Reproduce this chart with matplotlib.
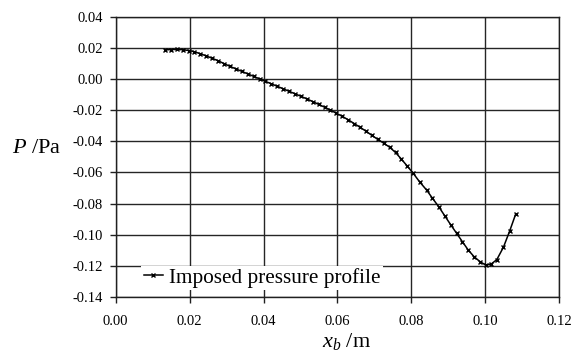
import matplotlib
matplotlib.use("Agg")
import matplotlib.pyplot as plt

plt.rcParams['font.family'] = ['Liberation Serif']
plt.rcParams['mathtext.fontset'] = 'custom'
plt.rcParams['mathtext.rm'] = 'Liberation Serif'
plt.rcParams['mathtext.it'] = 'Liberation Serif:italic'
plt.rcParams['axes.unicode_minus'] = False

x_b = [0.0133, 0.0149, 0.0165, 0.0181, 0.0197, 0.0213, 0.0229, 0.0245, 0.0261, 0.0277,
       0.0293, 0.0309, 0.0325, 0.0341, 0.0357, 0.0373, 0.0389, 0.0405, 0.0421, 0.0437,
       0.0453, 0.0469, 0.0485, 0.0501, 0.0517, 0.0533, 0.0549, 0.0565, 0.0581, 0.0597,
       0.0613, 0.0629, 0.0645, 0.0661, 0.0677, 0.0693, 0.0709, 0.0725, 0.0741, 0.0757,
       0.0773, 0.0789, 0.0805, 0.0822, 0.0841, 0.0857, 0.0875, 0.0890, 0.0906, 0.0922,
       0.0938, 0.0953, 0.0969, 0.0985, 0.1001, 0.1016, 0.1031, 0.1049, 0.1066, 0.1082]
pressure = [0.0187, 0.0189, 0.0190, 0.0188, 0.0183, 0.0175, 0.0162, 0.0148, 0.0133, 0.0117,
            0.0099, 0.0081, 0.0065, 0.0049, 0.0033, 0.0017, 0.0001, -0.0015, -0.0031, -0.0047,
            -0.0063, -0.0079, -0.0095, -0.0111, -0.0128, -0.0145, -0.0163, -0.0181, -0.0200, -0.0220,
            -0.0240, -0.0262, -0.0286, -0.0310, -0.0335, -0.0362, -0.0388, -0.0412, -0.0438, -0.0472,
            -0.0515, -0.0560, -0.0606, -0.0660, -0.0713, -0.0766, -0.0824, -0.0878, -0.0935, -0.0990,
            -0.1045, -0.1096, -0.1140, -0.1172, -0.1195, -0.1188, -0.1160, -0.1080, -0.0975, -0.0868]

x_ticks = [0.00, 0.02, 0.04, 0.06, 0.08, 0.10, 0.12]
y_ticks = [0.04, 0.02, 0.00, -0.02, -0.04, -0.06, -0.08, -0.10, -0.12, -0.14]
series_label = "Imposed pressure profile"

fig = plt.figure(figsize=(5.83, 3.54), dpi=100)
ax = fig.add_axes([0.1985, 0.161, 0.7608, 0.7918])

ax.plot(x_b, pressure, color='black', lw=1.1, marker='x', markersize=3.4,
        markeredgewidth=1.0, label=series_label, zorder=3)

ax.set_xlim(0.0, 0.12)
ax.set_ylim(-0.14, 0.04)
ax.set_xticks(x_ticks)
ax.set_yticks(y_ticks)
ax.set_xticklabels([f"{v:.2f}" for v in x_ticks])
ax.set_yticklabels([f"{v:.2f}" for v in y_ticks])
ax.grid(True, color='#252525', lw=1.0)
ax.set_axisbelow(True)
for s in ax.spines.values():
    s.set_color('#202020')
    s.set_linewidth(1.0)
ax.tick_params(direction='out', length=4, width=1.0, color='#202020', labelsize=10.5, pad=5)
ax.tick_params(axis='x', pad=9)

leg = ax.legend(loc='lower left', bbox_to_anchor=(0.058, 0.025), frameon=True,
                fontsize=15.3, handlelength=0.9, handletextpad=0.3, borderpad=0.1,
                borderaxespad=0.0, fancybox=False)
leg.get_frame().set_edgecolor('none')
leg.get_frame().set_facecolor('white')
leg.get_frame().set_alpha(1.0)

fig.text(0.063, 0.58, r'$P$ /Pa', fontsize=16, ha='center', va='center')
fig.text(0.595, 0.035, r'$x_b$ /m', fontsize=16, ha='center', va='center')

fig.savefig('out.png', dpi=100, facecolor='white')
